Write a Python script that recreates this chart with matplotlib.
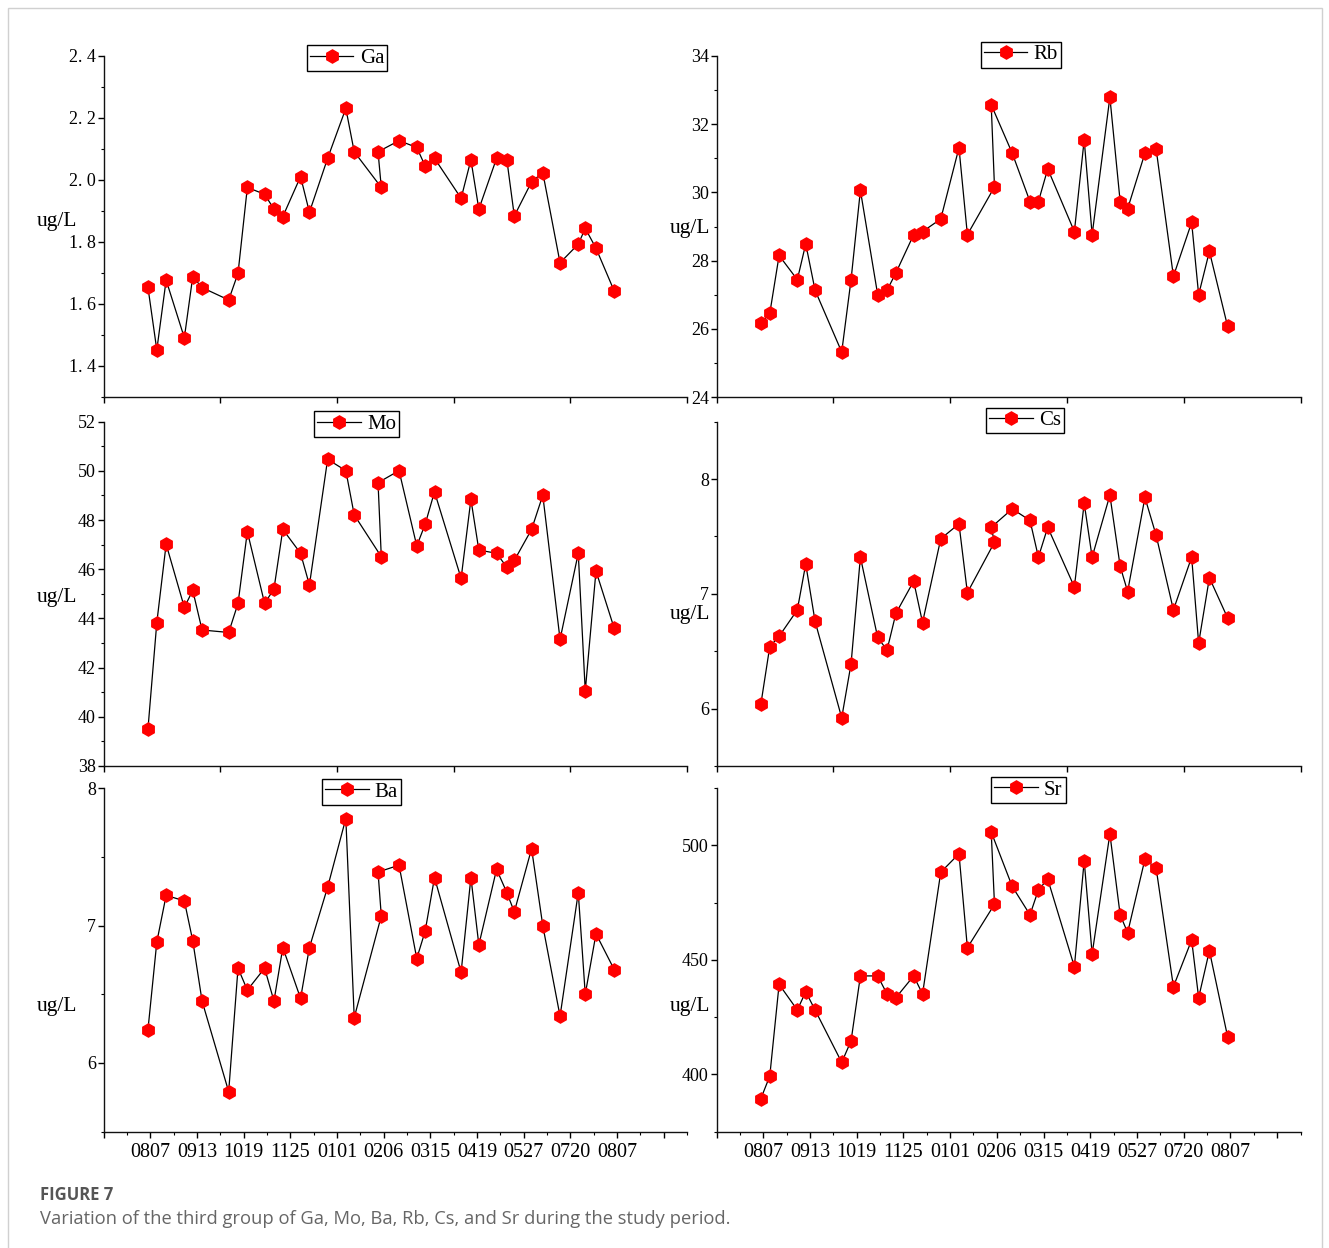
"""Figure 7 - third group of trace elements (Ga, Mo, Ba, Rb, Cs, Sr)
over the study period, six stacked panels with a caption underneath."""
import matplotlib.pyplot as plt
import matplotlib.patches as mpatches
from matplotlib.lines import Line2D
from matplotlib.ticker import FixedLocator, MultipleLocator, NullFormatter, FuncFormatter

plt.rcParams["font.family"] = ["Liberation Serif", "DejaVu Serif"]

# sampling positions on the time axis (1 unit = one date label step)
sample_x = [0.95, 1.14, 1.34, 1.73, 1.91, 2.11, 2.68, 2.88, 3.08, 3.45,
            3.65, 3.84, 4.22, 4.41, 4.80, 5.19, 5.37, 5.95, 5.88, 6.33,
            6.71, 6.89, 7.09, 7.66, 7.87, 8.04, 8.42, 8.64, 8.80, 9.17,
            9.41, 9.78, 10.17, 10.32, 10.55, 10.94]
date_labels = ["0807", "0913", "1019", "1125", "0101", "0206",
               "0315", "0419", "0527", "0720", "0807"]

ga = [1.654, 1.452, 1.677, 1.491, 1.688, 1.653, 1.613, 1.699, 1.976, 1.954,
      1.906, 1.882, 2.011, 1.896, 2.070, 2.231, 2.091, 1.976, 2.091, 2.127,
      2.105, 2.045, 2.070, 1.941, 2.065, 1.906, 2.070, 2.065, 1.884, 1.994,
      2.024, 1.733, 1.793, 1.844, 1.780, 1.642]
rb = [26.17, 26.45, 28.15, 27.44, 28.49, 27.13, 25.32, 27.44, 30.06, 27.00,
      27.13, 27.64, 28.76, 28.85, 29.22, 31.31, 28.76, 30.16, 32.57, 31.15,
      29.73, 29.73, 30.69, 28.85, 31.54, 28.76, 32.79, 29.73, 29.52, 31.15,
      31.27, 27.54, 29.12, 27.00, 28.27, 26.07]
mo = [39.50, 43.83, 47.02, 44.45, 45.14, 43.53, 43.43, 44.61, 47.53, 44.61,
      45.20, 47.62, 46.65, 45.36, 50.47, 50.01, 48.21, 46.51, 49.52, 50.01,
      46.95, 47.83, 49.15, 45.63, 48.84, 46.78, 46.65, 46.08, 46.36, 47.62,
      49.01, 43.15, 46.65, 41.05, 45.93, 43.60]
cs = [6.04, 6.54, 6.63, 6.86, 7.26, 6.76, 5.92, 6.39, 7.32, 6.62,
      6.51, 6.83, 7.11, 6.75, 7.48, 7.61, 7.01, 7.45, 7.58, 7.74,
      7.64, 7.32, 7.58, 7.06, 7.79, 7.32, 7.86, 7.24, 7.02, 7.84,
      7.51, 6.86, 7.32, 6.57, 7.14, 6.79]
ba = [6.24, 6.88, 7.22, 7.18, 6.89, 6.45, 5.79, 6.69, 6.53, 6.69,
      6.45, 6.84, 6.47, 6.84, 7.28, 7.78, 6.33, 7.07, 7.39, 7.44,
      6.76, 6.96, 7.35, 6.66, 7.35, 6.86, 7.41, 7.24, 7.10, 7.56,
      7.00, 6.34, 7.24, 6.50, 6.94, 6.68]
sr = [389.4, 399.2, 439.3, 428.1, 436.1, 428.1, 405.2, 414.6, 443.0, 443.0,
      435.1, 433.5, 443.0, 435.1, 488.3, 496.4, 455.3, 474.3, 505.9, 482.1,
      469.7, 480.6, 485.3, 447.0, 493.3, 452.6, 505.1, 469.7, 461.9, 494.0,
      490.1, 438.3, 458.7, 433.5, 454.0, 416.4]

W, H = 1329, 1248
fig = plt.figure(figsize=(W / 100, H / 100), dpi=100)
fig.patch.set_facecolor("white")


def add_panel(left, top, right, bottom):
    # pixel box -> figure fraction
    return fig.add_axes([left / W, 1 - bottom / H, (right - left) / W, (bottom - top) / H])


COLS = [(103.6, 687.0), (716.5, 1300.5)]
ROWS = [(56.0, 397.0), (421.7, 766.0), (788.3, 1131.5)]

# name, values, col, row, ylim, major, minor, legend anchor, ylabel pos
panels = [
    ("Ga", ga, 0, 0, (1.3, 2.4), 0.2, 0.1, (0.417, 0.994), (-0.080, 0.516)),
    ("Rb", rb, 1, 0, (24, 34), 2, 1, (0.521, 1.004), (-0.045, 0.493)),
    ("Mo", mo, 0, 1, (38, 52), 2, 1, (0.4335, 0.993), (-0.080, 0.488)),
    ("Cs", cs, 1, 1, (5.5, 8.5), 1, 0.5, (0.528, 1.0035), (-0.045, 0.439)),
    ("Ba", ba, 0, 2, (5.5, 8.0), 1, 0.5, (0.442, 0.990), (-0.080, 0.365)),
    ("Sr", sr, 1, 2, (375, 525), 50, 25, (0.534, 0.9956), (-0.045, 0.365)),
]

for name, vals, col, row, ylim, major, minor, leg_xy, lab_xy in panels:
    x0, x1 = COLS[col]
    y0, y1 = ROWS[row]
    ax = add_panel(x0, y0, x1, y1)
    ax.plot(sample_x, vals, color="black", lw=0.9, marker="h", ms=9.5,
            mfc="red", mec="red", zorder=3)
    ax.set_xlim(0, 12.5)
    ax.set_ylim(*ylim)

    for s in ("top", "right"):
        ax.spines[s].set_visible(False)
    for s in ("left", "bottom"):
        ax.spines[s].set_linewidth(1.0)
        ax.spines[s].set_color("#111111")

    ax.yaxis.set_major_locator(MultipleLocator(major))
    ax.yaxis.set_minor_locator(MultipleLocator(minor))
    if name == "Ga":
        ax.yaxis.set_major_formatter(FuncFormatter(lambda v, p: f"{v:.1f}".replace(".", ". ")))
    else:
        ax.yaxis.set_major_formatter(FuncFormatter(lambda v, p: f"{v:g}"))

    if row == 2:
        ax.xaxis.set_major_locator(FixedLocator(range(0, 13)))
        ax.set_xticklabels([""] + date_labels + [""])
        ax.xaxis.set_minor_locator(FixedLocator([i + 0.5 for i in range(13)]))
    else:
        ax.xaxis.set_major_locator(FixedLocator([0, 2.5, 5, 7.5, 10, 12.5]))
        ax.xaxis.set_major_formatter(NullFormatter())

    ax.tick_params(axis="y", which="major", direction="out", length=4, width=1.0,
                   pad=1.5, labelsize=13)
    ax.tick_params(axis="y", which="minor", direction="out", length=2.5, width=0.8)
    ax.tick_params(axis="x", which="major", direction="out", length=4, width=1.0,
                   pad=4.0, labelsize=14.5)
    ax.tick_params(axis="x", which="minor", direction="out", length=2.5, width=0.8)

    ax.set_ylabel("ug/L", rotation=0, fontsize=15.5, ha="center", va="center")
    ax.yaxis.set_label_coords(*lab_xy)

    handle = Line2D([], [], color="black", lw=0.9, marker="h", ms=9.5,
                    mfc="red", mec="red")
    leg = ax.legend([handle], [name], loc="center", bbox_to_anchor=leg_xy,
                    frameon=True, fancybox=False, edgecolor="black", framealpha=1,
                    fontsize=15, handlelength=2.1, handletextpad=0.3,
                    borderpad=0.15, borderaxespad=0)
    leg.get_frame().set_linewidth(1.0)

# caption
fig.text(40 / W, 1 - 1195 / H, "FIGURE 7",
         family=["Open Sans", "DejaVu Sans"],
         fontweight="bold", fontsize=12, color="#555555", va="center", ha="left")
fig.text(40 / W, 1 - 1219.5 / H,
         "Variation of the third group of Ga, Mo, Ba, Rb, Cs, and Sr during the study period.",
         family=["Open Sans", "DejaVu Sans"], fontsize=13.2, color="#666666",
         va="center", ha="left")

# thin grey frame round the whole figure
fig.add_artist(mpatches.Rectangle((7.5 / W, -0.01), (1321.5 - 7.5) / W, 1 - 7.5 / H + 0.01,
                                  transform=fig.transFigure, fill=False,
                                  edgecolor="#d0d0d0", linewidth=1.0))

fig.savefig("out.png", dpi=100, facecolor="white")
